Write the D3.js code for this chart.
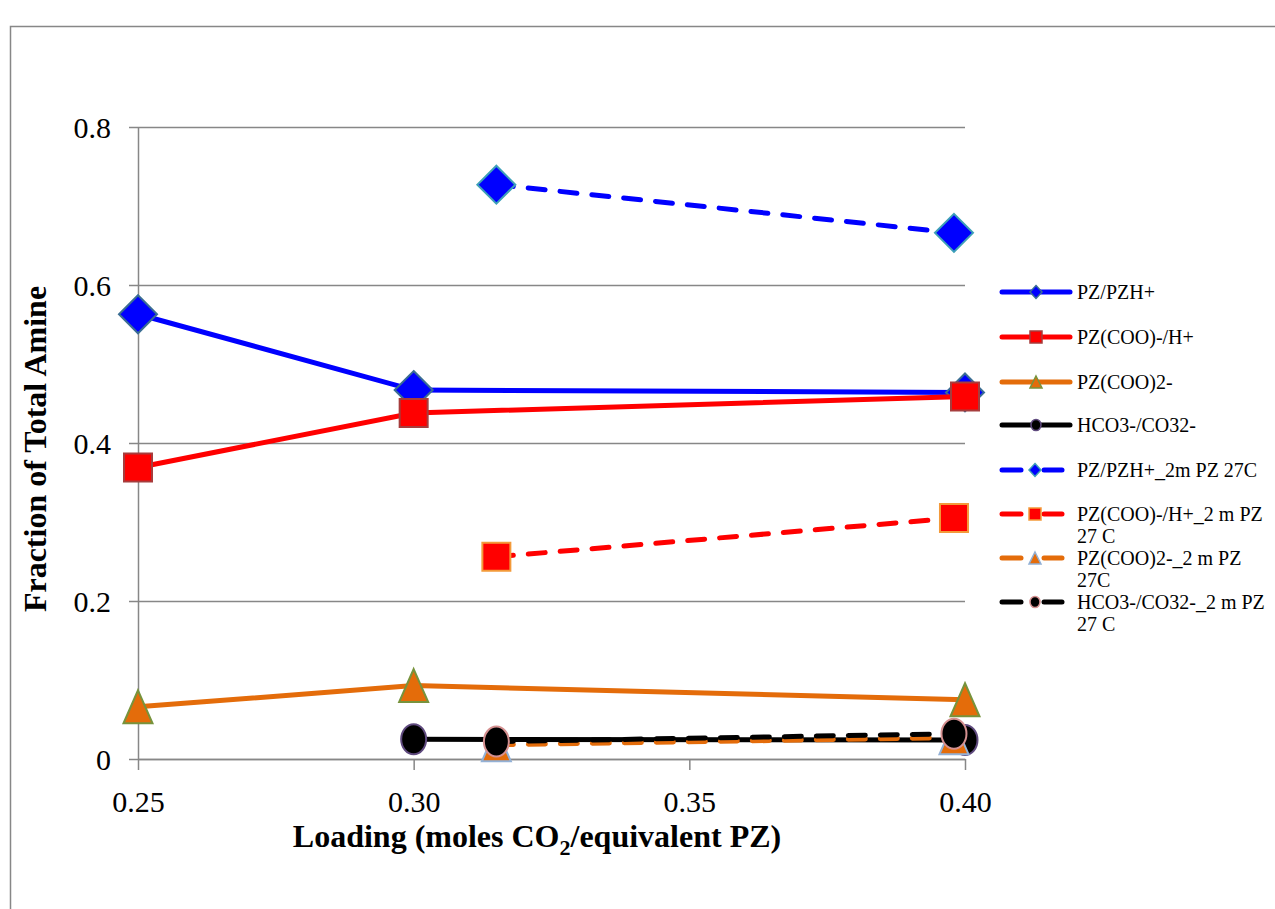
<!DOCTYPE html>
<html>
<head>
<meta charset="utf-8">
<script src="https://cdn.jsdelivr.net/npm/d3@7"></script>
<style>
  html, body { margin: 0; padding: 0; background: #fff; }
  svg { display: block; font-family: "Liberation Serif", "Times New Roman", serif; }
  svg text { font-family: "Liberation Serif", "Times New Roman", serif; fill: #000; }
</style>
</head>
<body>
<svg id="chart" width="1275" height="909"></svg>
<script>
// Loading values (moles CO2 / equivalent PZ)
const loadingMain = [0.25, 0.30, 0.40];
const loading2m = [0.315, 0.398];

// Fraction of total amine, main series
const pzMain = [0.563, 0.467, 0.464];
const pzCooMain = [0.369, 0.438, 0.459];
const pzCoo2Main = [0.066, 0.093, 0.075];
const hco3Main = [null, 0.025, 0.024];

// Fraction of total amine, 2 m PZ at 27 C
const pz2m = [0.727, 0.666];
const pzCoo2m = [0.256, 0.305];
const pzCoo22m = [0.018, 0.027];
const hco32m = [0.022, 0.032];

const xTicks = [0.25, 0.30, 0.35, 0.40];
const yTicks = [0, 0.2, 0.4, 0.6, 0.8];

const seriesNames = [
  ["PZ/PZH+"],
  ["PZ(COO)-/H+"],
  ["PZ(COO)2-"],
  ["HCO3-/CO32-"],
  ["PZ/PZH+_2m PZ 27C"],
  ["PZ(COO)-/H+_2 m PZ", "27 C"],
  ["PZ(COO)2-_2 m PZ", "27C"],
  ["HCO3-/CO32-_2 m PZ", "27 C"]
];

const series = [
  { name: seriesNames[0], x: loadingMain, y: pzMain, color: "#0000FF", marker: "diamond", mStroke: "#3A6D93", dashed: false },
  { name: seriesNames[1], x: loadingMain, y: pzCooMain, color: "#FF0000", marker: "square", mStroke: "#A63D3D", dashed: false },
  { name: seriesNames[2], x: loadingMain, y: pzCoo2Main, color: "#E46C0A", marker: "triangle", mStroke: "#77933C", dashed: false },
  { name: seriesNames[3], x: loadingMain, y: hco3Main, color: "#000000", marker: "circle", mStroke: "#5F4A7E", dashed: false },
  { name: seriesNames[4], x: loading2m, y: pz2m, color: "#0000FF", marker: "diamond", mStroke: "#3EA0B8", dashed: true },
  { name: seriesNames[5], x: loading2m, y: pzCoo2m, color: "#FF0000", marker: "square", mStroke: "#F39A3A", dashed: true },
  { name: seriesNames[6], x: loading2m, y: pzCoo22m, color: "#E46C0A", marker: "triangle", mStroke: "#93B1D6", dashed: true },
  { name: seriesNames[7], x: loading2m, y: hco32m, color: "#000000", marker: "circle", mStroke: "#D59090", dashed: true }
];

const serif = "'Liberation Serif', 'Times New Roman', serif";
const svg = d3.select("#chart");
const plot = { left: 138, right: 965, top: 127, bottom: 759 };
const gridColor = "#878787";

// outer chart frame (continues past the right and bottom edges)
svg.append("rect")
  .attr("x", 10.5).attr("y", 26.5)
  .attr("width", 1400).attr("height", 1000)
  .attr("fill", "none").attr("stroke", gridColor).attr("stroke-width", 1.5);

const x = d3.scaleLinear().domain([0.25, 0.40]).range([plot.left, plot.right]);
const y = d3.scaleLinear().domain([0, 0.8]).range([plot.bottom, plot.top]);

// horizontal gridlines + y axis
const yAxis = d3.axisLeft(y).tickValues(yTicks)
  .tickFormat(d => d === 0 ? "0" : d3.format(".1f")(d))
  .tickSize(-(plot.right - plot.left)).tickSizeOuter(0).tickPadding(0);
const gy = svg.append("g").attr("transform", `translate(${plot.left},0)`).call(yAxis)
  .attr("font-family", null).attr("font-size", null);
gy.select(".domain").attr("stroke", gridColor).attr("stroke-width", 1.5);
gy.selectAll(".tick line").attr("stroke", gridColor).attr("stroke-width", 1.5)
  .attr("x1", -9);
gy.selectAll(".tick text").style("font-family", serif).style("font-size", "30px")
  .attr("fill", "#000").attr("x", -27).attr("dy", "0.34em");

// x axis
const xAxis = d3.axisBottom(x).tickValues(xTicks).tickFormat(d3.format(".2f"))
  .tickSize(11).tickSizeOuter(0).tickPadding(0);
const gx = svg.append("g").attr("transform", `translate(0,${plot.bottom})`).call(xAxis)
  .attr("font-family", null).attr("font-size", null);
gx.select(".domain").attr("stroke", gridColor).attr("stroke-width", 1.5);
gx.selectAll(".tick line").attr("stroke", gridColor).attr("stroke-width", 1.5);
gx.selectAll(".tick text").style("font-family", serif).style("font-size", "30px")
  .attr("fill", "#000").attr("y", 53).attr("dy", 0);

// axis titles
svg.append("text")
  .attr("transform", `translate(46,449) rotate(-90)`)
  .attr("text-anchor", "middle")
  .style("font-family", serif).style("font-size", "32px").attr("font-weight", "bold")
  .text("Fraction of Total Amine");

const xt = svg.append("text")
  .attr("x", 537).attr("y", 847)
  .attr("text-anchor", "middle")
  .style("font-family", serif).style("font-size", "32px").attr("font-weight", "bold");
xt.append("tspan").text("Loading (moles CO");
xt.append("tspan").style("font-size", "22px").attr("dy", 8).text("2");
xt.append("tspan").attr("dy", -8).text("/equivalent PZ)");

// marker shapes: w = width, h = height, centred on the data point
function markerPath(type, w, h) {
  const a = w / 2, b = h / 2;
  if (type === "circle") {
    return `M${a},0A${a},${b},0,1,1,${-a},0A${a},${b},0,1,1,${a},0Z`;
  }
  const p = d3.path();
  if (type === "diamond") {
    p.moveTo(0, -b); p.lineTo(a, 0); p.lineTo(0, b); p.lineTo(-a, 0); p.closePath();
  } else if (type === "square") {
    p.rect(-a, -b, w, h);
  } else {
    p.moveTo(0, -b); p.lineTo(a, b); p.lineTo(-a, b); p.closePath();
  }
  return p.toString();
}
const markerDims = {
  diamond: [38, 38],
  square: [28, 28],
  triangle: [29, 33],
  circle: [25, 30]
};
const legendDims = {
  diamond: [12, 13],
  square: [12, 12],
  triangle: [12, 12],
  circle: [10, 11]
};

const line = d3.line().defined(d => d[1] != null).x(d => x(d[0])).y(d => y(d[1]));

series.forEach(s => {
  const pts = s.x.map((v, i) => [v, s.y[i]]);
  svg.append("path")
    .attr("d", line(pts))
    .attr("fill", "none")
    .attr("stroke", s.color).attr("stroke-width", 5)
    .attr("stroke-linecap", s.dashed ? "round" : "butt")
    .attr("stroke-dasharray", s.dashed ? "17,15" : null);
  const [mw, mh] = markerDims[s.marker];
  svg.append("g").selectAll("path")
    .data(pts.filter(d => d[1] != null))
    .join("path")
    .attr("transform", d => `translate(${x(d[0])},${y(d[1])})`)
    .attr("d", markerPath(s.marker, mw, mh))
    .attr("fill", s.color)
    .attr("stroke", s.mStroke).attr("stroke-width", 2);
});

// legend
const legendRows = [292, 337, 382, 425, 470, 514, 558, 602];
const lg = svg.append("g");
series.forEach((s, i) => {
  const yy = legendRows[i];
  const g = lg.append("g").attr("transform", `translate(0,${yy})`);
  if (s.dashed) {
    g.append("line").attr("x1", 1002).attr("x2", 1021).attr("y1", 0).attr("y2", 0)
      .attr("stroke", s.color).attr("stroke-width", 5).attr("stroke-linecap", "round");
    g.append("line").attr("x1", 1044).attr("x2", 1062).attr("y1", 0).attr("y2", 0)
      .attr("stroke", s.color).attr("stroke-width", 5).attr("stroke-linecap", "round");
  } else {
    g.append("line").attr("x1", 1002).attr("x2", 1070).attr("y1", 0).attr("y2", 0)
      .attr("stroke", s.color).attr("stroke-width", 5).attr("stroke-linecap", "round");
  }
  const [lw, lh] = legendDims[s.marker];
  g.append("path")
    .attr("transform", `translate(${s.dashed ? 1035 : 1036},0)`)
    .attr("d", markerPath(s.marker, lw, lh))
    .attr("fill", s.color).attr("stroke", s.mStroke).attr("stroke-width", 1.5);
  const t = g.append("text").attr("x", 1077).attr("y", 0)
    .style("font-family", serif).style("font-size", "20px");
  s.name.forEach((ln, j) => {
    t.append("tspan").attr("x", 1077).attr("dy", j === 0 ? "0.35em" : 22).text(ln);
  });
});
</script>
</body>
</html>
